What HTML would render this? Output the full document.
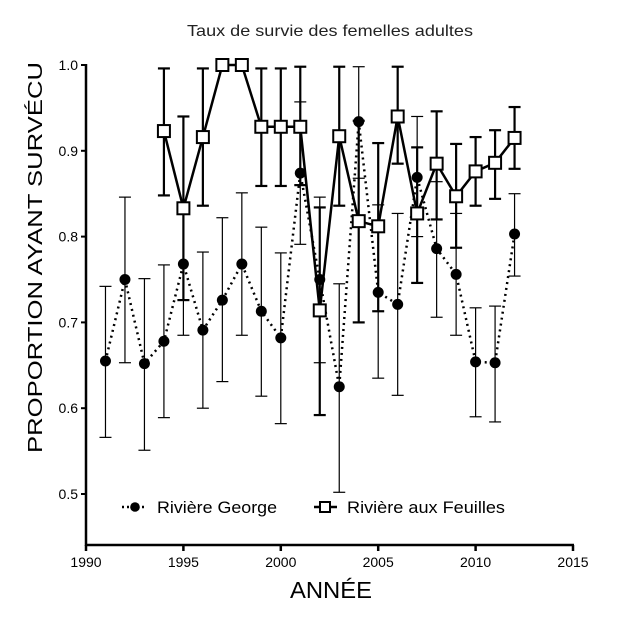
<!DOCTYPE html>
<html><head><meta charset="utf-8"><style>
html,body{margin:0;padding:0;background:#fff;}
svg{display:block;font-family:"Liberation Sans",Arial,sans-serif;}
</style></head><body>
<svg id="chart" width="631" height="627" viewBox="0 0 631 627" xmlns="http://www.w3.org/2000/svg">
<text x="187" y="36" font-size="16" fill="#222" textLength="286" lengthAdjust="spacingAndGlyphs">Taux de survie des femelles adultes</text>
<text x="290" y="598" font-size="23" textLength="82" lengthAdjust="spacingAndGlyphs">ANNÉE</text>
<text transform="translate(42,453) rotate(-90)" font-size="20" textLength="391" lengthAdjust="spacingAndGlyphs">PROPORTION AYANT SURVÉCU</text>
<g id="axes"></g>
<g id="marks"></g>
<g id="legend">
  <line x1="122" y1="507" x2="145" y2="507" stroke="#000" stroke-width="2.5" stroke-dasharray="2,3"/>
  <circle cx="135" cy="507" r="4.8" fill="#000"/>
  <text x="157" y="513" font-size="17" textLength="120" lengthAdjust="spacingAndGlyphs">Rivière George</text>
  <line x1="314" y1="507" x2="337" y2="507" stroke="#000" stroke-width="2.5"/>
  <rect x="320" y="502" width="10" height="10" fill="#fff" stroke="#000" stroke-width="2"/>
  <text x="347" y="513" font-size="17" textLength="158" lengthAdjust="spacingAndGlyphs">Rivière aux Feuilles</text>
</g>
</svg>
<script>
const years = [1991,1992,1993,1994,1995,1996,1997,1998,1999,2000,2001,2002,2003,2004,2005,2006,2007,2008,2009,2010,2011,2012];
const georgeVals = [0.655,0.750,0.652,0.678,0.768,0.691,0.726,0.768,0.713,0.682,0.874,0.750,0.625,0.934,0.735,0.721,0.869,0.786,0.756,0.654,0.653,0.803];
const georgeLow  = [0.566,0.653,0.551,0.589,0.685,0.600,0.631,0.685,0.614,0.582,0.791,0.653,0.502,0.868,0.635,0.615,0.800,0.706,0.685,0.590,0.584,0.754];
const georgeHigh = [0.742,0.846,0.751,0.767,0.830,0.782,0.822,0.851,0.811,0.781,0.957,0.846,0.745,0.998,0.837,0.827,0.940,0.864,0.827,0.717,0.719,0.850];
const feuYears = [1994,1995,1996,1997,1998,1999,2000,2001,2002,2003,2004,2005,2006,2007,2008,2009,2010,2011,2012];
const feuVals = [0.923,0.833,0.916,1.0,1.0,0.928,0.928,0.928,0.714,0.917,0.818,0.812,0.940,0.827,0.885,0.847,0.876,0.886,0.915];
const feuLow  = [0.848,0.726,0.836,1.0,1.0,0.859,0.859,0.860,0.592,0.836,0.700,0.713,0.885,0.746,0.820,0.787,0.836,0.844,0.879];
const feuHigh = [0.996,0.940,0.996,1.0,1.0,0.996,0.996,0.998,0.834,0.998,0.935,0.909,0.998,0.904,0.946,0.908,0.916,0.924,0.951];
const xTicks = [1990,1995,2000,2005,2010,2015];
const yTicks = [0.5,0.6,0.7,0.8,0.9,1.0];

const NS="http://www.w3.org/2000/svg";
const xs = y => 86 + (y-1990)*(573-86)/25;
const ys = v => 65 + (1.0-v)*858;
function mk(tag, attrs, parent){const e=document.createElementNS(NS,tag);for(const k in attrs)e.setAttribute(k,attrs[k]);parent.appendChild(e);return e;}
const axes=document.getElementById('axes'), marks=document.getElementById('marks');

const ya=mk('line',{x1:86,y1:64,x2:86,y2:546,stroke:'#000','stroke-width':2.5},axes);


const xa=mk('line',{x1:85,y1:545,x2:574,y2:545,stroke:'#000','stroke-width':2.5},axes);


yTicks.forEach(t=>{
  mk('line',{x1:81,y1:ys(t),x2:86,y2:ys(t),stroke:'#000','stroke-width':2},axes);
  const tx=mk('text',{x:78,y:ys(t)+5,'text-anchor':'end','font-size':14},axes);
  tx.textContent=t.toFixed(1);
  
  
});
xTicks.forEach(t=>{
  mk('line',{x1:xs(t),y1:545,x2:xs(t),y2:551,stroke:'#000','stroke-width':2.5},axes);
  const tx=mk('text',{x:xs(t),y:567,'text-anchor':'middle','font-size':14},axes);
  tx.textContent=t;
  
  
});

years.forEach((y,i)=>{
  const g=mk('g',{stroke:'#000','stroke-width':1.2},marks);
  
  
  const x=xs(y);
  mk('line',{x1:x,y1:ys(georgeLow[i]),x2:x,y2:ys(georgeHigh[i])},g);
  mk('line',{x1:x-6,y1:ys(georgeLow[i]),x2:x+6,y2:ys(georgeLow[i])},g);
  mk('line',{x1:x-6,y1:ys(georgeHigh[i]),x2:x+6,y2:ys(georgeHigh[i])},g);
});
feuYears.forEach((y,i)=>{
  const g=mk('g',{stroke:'#000','stroke-width':2.2},marks);
  
  
  const x=xs(y);
  mk('line',{x1:x,y1:ys(feuLow[i]),x2:x,y2:ys(feuHigh[i])},g);
  mk('line',{x1:x-6,y1:ys(feuLow[i]),x2:x+6,y2:ys(feuLow[i])},g);
  mk('line',{x1:x-6,y1:ys(feuHigh[i]),x2:x+6,y2:ys(feuHigh[i])},g);
});
const gl=mk('polyline',{points:years.map((y,i)=>xs(y)+','+ys(georgeVals[i])).join(' '),fill:'none',stroke:'#000','stroke-width':2.5,'stroke-dasharray':'2,4'},marks);


const fl=mk('polyline',{points:feuYears.map((y,i)=>xs(y)+','+ys(feuVals[i])).join(' '),fill:'none',stroke:'#000','stroke-width':2.5},marks);


years.forEach((y,i)=>{
  const c=mk('circle',{cx:xs(y),cy:ys(georgeVals[i]),r:5.5,fill:'#000'},marks);
  
  
});
feuYears.forEach((y,i)=>{
  const r=mk('rect',{x:xs(y)-6,y:ys(feuVals[i])-6,width:12,height:12,fill:'#fff',stroke:'#000','stroke-width':2},marks);
  
  
});
</script>
</body></html>
